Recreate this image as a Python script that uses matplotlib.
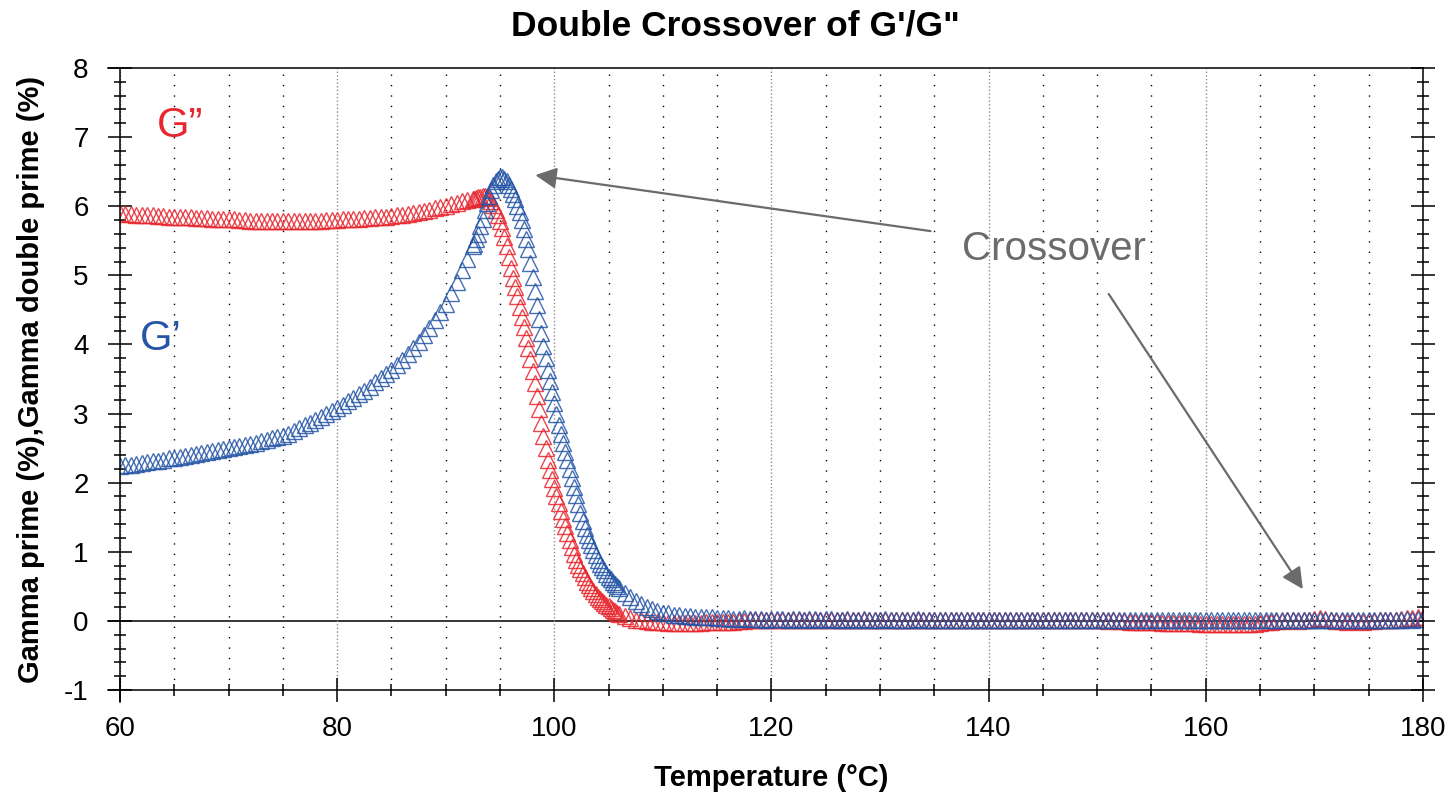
import numpy as np
import matplotlib
matplotlib.use("Agg")
import matplotlib.pyplot as plt

plt.rcParams['font.family'] = ['Liberation Sans', 'DejaVu Sans']
plt.rcParams['axes.unicode_minus'] = False

# temperature sampling grid (°C): coarse / dense around the crossover / coarse
temp_a = np.linspace(60, 92.5, 66)
temp_b = np.linspace(92.6, 106.0, 68)
temp_c = np.linspace(106.5, 180, 148)

# G' (gamma prime, %)
g1_a = [2.24, 2.25, 2.26, 2.27, 2.28, 2.30, 2.31, 2.32, 2.33, 2.35,
        2.36, 2.37, 2.38, 2.40, 2.41, 2.43, 2.44, 2.46, 2.47, 2.49,
        2.50, 2.52, 2.53, 2.55, 2.56, 2.58, 2.60, 2.62, 2.64, 2.66,
        2.68, 2.71, 2.75, 2.79, 2.83, 2.87, 2.91, 2.95, 2.99, 3.03,
        3.08, 3.13, 3.18, 3.23, 3.28, 3.33, 3.39, 3.45, 3.51, 3.57,
        3.63, 3.70, 3.78, 3.86, 3.95, 4.04, 4.14, 4.24, 4.35, 4.47,
        4.59, 4.74, 4.90, 5.07, 5.24, 5.42]
g1_b = [5.46, 5.53, 5.60, 5.71, 5.82, 5.94, 6.05, 6.15, 6.23, 6.30,
        6.36, 6.40, 6.42, 6.42, 6.40, 6.36, 6.31, 6.25, 6.18, 6.10,
        6.01, 5.91, 5.80, 5.67, 5.53, 5.38, 5.18, 4.98, 4.78, 4.57,
        4.37, 4.17, 3.98, 3.80, 3.63, 3.47, 3.31, 3.15, 2.99, 2.83,
        2.70, 2.57, 2.45, 2.33, 2.20, 2.07, 1.94, 1.82, 1.69, 1.56,
        1.45, 1.35, 1.25, 1.17, 1.10, 1.03, 0.95, 0.88, 0.83, 0.78,
        0.73, 0.68, 0.64, 0.60, 0.56, 0.53, 0.50, 0.47]
g1_c = [0.40, 0.34, 0.29, 0.24, 0.20, 0.17, 0.14, 0.12, 0.11, 0.09,
        0.08, 0.07, 0.07, 0.06, 0.06, 0.05, 0.05, 0.04, 0.04, 0.04,
        0.03, 0.03, 0.04, 0.03, 0.03, 0.03, 0.02, 0.03, 0.03, 0.03, 0.02, 0.03, 0.03, 0.02, 0.03, 0.03,
        0.02, 0.03, 0.03, 0.02, 0.02, 0.03, 0.02, 0.02, 0.03, 0.02, 0.02, 0.02, 0.03, 0.02, 0.02, 0.02,
        0.02, 0.02, 0.03, 0.02, 0.02, 0.02, 0.01, 0.02, 0.02, 0.02, 0.01, 0.02, 0.02, 0.02, 0.02, 0.01,
        0.02, 0.02, 0.01, 0.02, 0.02, 0.02, 0.01, 0.02, 0.02, 0.01, 0.02, 0.02, 0.02, 0.01, 0.02, 0.02,
        0.01, 0.02, 0.02, 0.01, 0.02, 0.02, 0.01, 0.01, 0.02, 0.02, 0.01, 0.02, 0.02, 0.01, 0.02, 0.01,
        0.02, 0.02, 0.01, 0.02, 0.01, 0.02, 0.02, 0.01, 0.02, 0.02, 0.01, 0.02, 0.01, 0.02, 0.02, 0.01,
        0.02, 0.01, 0.02, 0.02, 0.01, 0.02, 0.02, 0.01, 0.02, 0.02, 0.01, 0.02, 0.02, 0.01, 0.02, 0.02,
        0.01, 0.02, 0.02, 0.01, 0.02, 0.02, 0.01, 0.02, 0.02, 0.01, 0.02, 0.02, 0.03, 0.02, 0.03, 0.03]

# G'' (gamma double prime, %)
g2_a = [5.90, 5.89, 5.89, 5.88, 5.88, 5.87, 5.87, 5.86, 5.86, 5.85,
        5.85, 5.85, 5.84, 5.84, 5.83, 5.83, 5.83, 5.82, 5.82, 5.82,
        5.81, 5.81, 5.80, 5.80, 5.79, 5.79, 5.79, 5.78, 5.78, 5.78,
        5.78, 5.78, 5.78, 5.78, 5.79, 5.79, 5.79, 5.79, 5.80, 5.80,
        5.80, 5.81, 5.81, 5.82, 5.82, 5.83, 5.83, 5.84, 5.84, 5.85,
        5.86, 5.87, 5.88, 5.89, 5.90, 5.92, 5.93, 5.95, 5.97, 5.99,
        6.01, 6.03, 6.05, 6.07, 6.09, 6.11]
g2_b = [6.11, 6.12, 6.13, 6.14, 6.15, 6.15, 6.14, 6.12, 6.08, 6.02,
        5.95, 5.87, 5.78, 5.68, 5.56, 5.42, 5.26, 5.10, 4.96, 4.83,
        4.70, 4.54, 4.39, 4.25, 4.10, 3.95, 3.79, 3.62, 3.44, 3.25,
        3.06, 2.87, 2.68, 2.50, 2.33, 2.18, 2.05, 1.93, 1.81, 1.70,
        1.59, 1.48, 1.38, 1.27, 1.17, 1.07, 0.97, 0.88, 0.81, 0.75,
        0.69, 0.63, 0.57, 0.52, 0.47, 0.43, 0.39, 0.35, 0.32, 0.29,
        0.26, 0.23, 0.21, 0.18, 0.16, 0.14, 0.12, 0.10]
g2_c = [0.07, 0.04, 0.02, 0.01, 0.00, -0.01, -0.02, -0.02, -0.03, -0.03,
        -0.03, -0.03, -0.03, -0.03, -0.03, -0.02, -0.02, -0.02, -0.02, -0.01,
        -0.01, 0.00, 0.00, 0.01, 0.01, 0.01, 0.02, 0.01, 0.02, 0.02, 0.01, 0.02, 0.02, 0.01, 0.02, 0.02,
        0.01, 0.02, 0.02, 0.01, 0.02, 0.02, 0.01, 0.02, 0.02, 0.01, 0.02, 0.02, 0.01, 0.02, 0.02, 0.01,
        0.02, 0.02, 0.01, 0.02, 0.02, 0.01, 0.02, 0.02, 0.01, 0.02, 0.02, 0.01, 0.02, 0.02, 0.01, 0.02,
        0.02, 0.01, 0.02, 0.02, 0.01, 0.02, 0.02, 0.01, 0.02, 0.02, 0.01, 0.02, 0.02, 0.01, 0.02, 0.01,
        0.01, 0.02, 0.01, 0.01, 0.01, 0.00, 0.01, 0.00, 0.00, -0.01, -0.01, -0.02, -0.02, -0.02, -0.02, -0.03,
        -0.03, -0.03, -0.03, -0.03, -0.03, -0.03, -0.04, -0.04, -0.04, -0.04, -0.04, -0.04, -0.04, -0.04, -0.04, -0.04,
        -0.04, -0.03, -0.02, -0.01, 0.00, 0.00, 0.01, 0.01, 0.00, 0.01, 0.02, 0.03, 0.04, 0.03, 0.01, 0.00,
        0.00, -0.01, 0.00, 0.00, -0.01, 0.00, 0.00, 0.01, 0.01, 0.02, 0.02, 0.03, 0.04, 0.04, 0.05, 0.05]

temp = np.concatenate([temp_a, temp_b, temp_c])
g_prime = np.concatenate([g1_a, g1_b, g1_c])
g_dprime = np.concatenate([g2_a, g2_b, g2_c])

red = '#e8262e'
blue = '#2455a6'
grey = '#6b6b6b'

fig = plt.figure(figsize=(14.56, 7.99), dpi=100)
ax = fig.add_axes([0.0824, 0.1364, 0.8949, 0.7785])

ax.plot(temp, g_dprime, linestyle='none', marker='^', markersize=11.5,
        markerfacecolor='none', markeredgecolor=red, markeredgewidth=1.0, alpha=0.85)
ax.plot(temp, g_prime, linestyle='none', marker='^', markersize=11.5,
        markerfacecolor='none', markeredgecolor=blue, markeredgewidth=1.0, alpha=0.85)

ax.axhline(0, xmin=-0.009, xmax=1, color='black', lw=1.1, clip_on=False, zorder=1)

ax.set_xlim(60, 180)
ax.set_ylim(-1, 8)
ax.set_xticks(np.arange(60, 181, 20))
ax.set_xticks(np.arange(60, 181, 5), minor=True)
ax.set_yticks(np.arange(-1, 9, 1))
ax.set_yticks(np.arange(-1, 8.01, 0.2), minor=True)

ax.grid(which='major', axis='x', color='#8a8a8a', linestyle=(0, (1, 1.6)), lw=1.0)
ax.grid(which='minor', axis='x', color='black', linestyle=(0, (1, 6.5)), lw=1.0)

ax.tick_params(which='major', direction='inout', length=17, width=1.1, labelsize=20, colors='black')
ax.tick_params(which='minor', direction='inout', length=9, width=1.1)
ax.tick_params(axis='x', which='major', pad=10)
ax.tick_params(axis='y', which='major', pad=14)
ax.tick_params(axis='y', which='both', right=True)

for s in ax.spines.values():
    s.set_linewidth(1.1)
ax.spines['bottom'].set_bounds(58.9, 180)
ax.spines['top'].set_bounds(58.9, 180)
ax.spines['left'].set_bounds(-1.17, 8)

ax.text(65.5, 7.16, 'G\u201d', color=red, fontsize=30, ha='center', va='center')
ax.text(63.8, 4.08, 'G\u2019', color=blue, fontsize=30, ha='center', va='center')
ax.text(146.0, 5.38, 'Crossover', color=grey, fontsize=29, ha='center', va='center')

arrow = dict(arrowstyle='-|>', color=grey, lw=1.6, mutation_scale=32, shrinkA=0, shrinkB=0)
ax.annotate('', xy=(98.25, 6.45), xytext=(134.65, 5.64), arrowprops=arrow)
ax.annotate('', xy=(168.94, 0.46), xytext=(151.06, 4.73), arrowprops=arrow)

fig.text(0.505, 0.968, 'Double Crossover of G\'/G"', fontsize=25.5, fontweight='bold',
         ha='center', va='center')
fig.text(0.5296, 0.026, 'Temperature (\u00b0C)', fontsize=21, fontweight='bold',
         ha='center', va='center')
fig.text(0.021, 0.525, 'Gamma prime (%),Gamma double prime (%)', fontsize=21,
         fontweight='bold', rotation=90, ha='center', va='center')

fig.savefig('out.png', dpi=100)
